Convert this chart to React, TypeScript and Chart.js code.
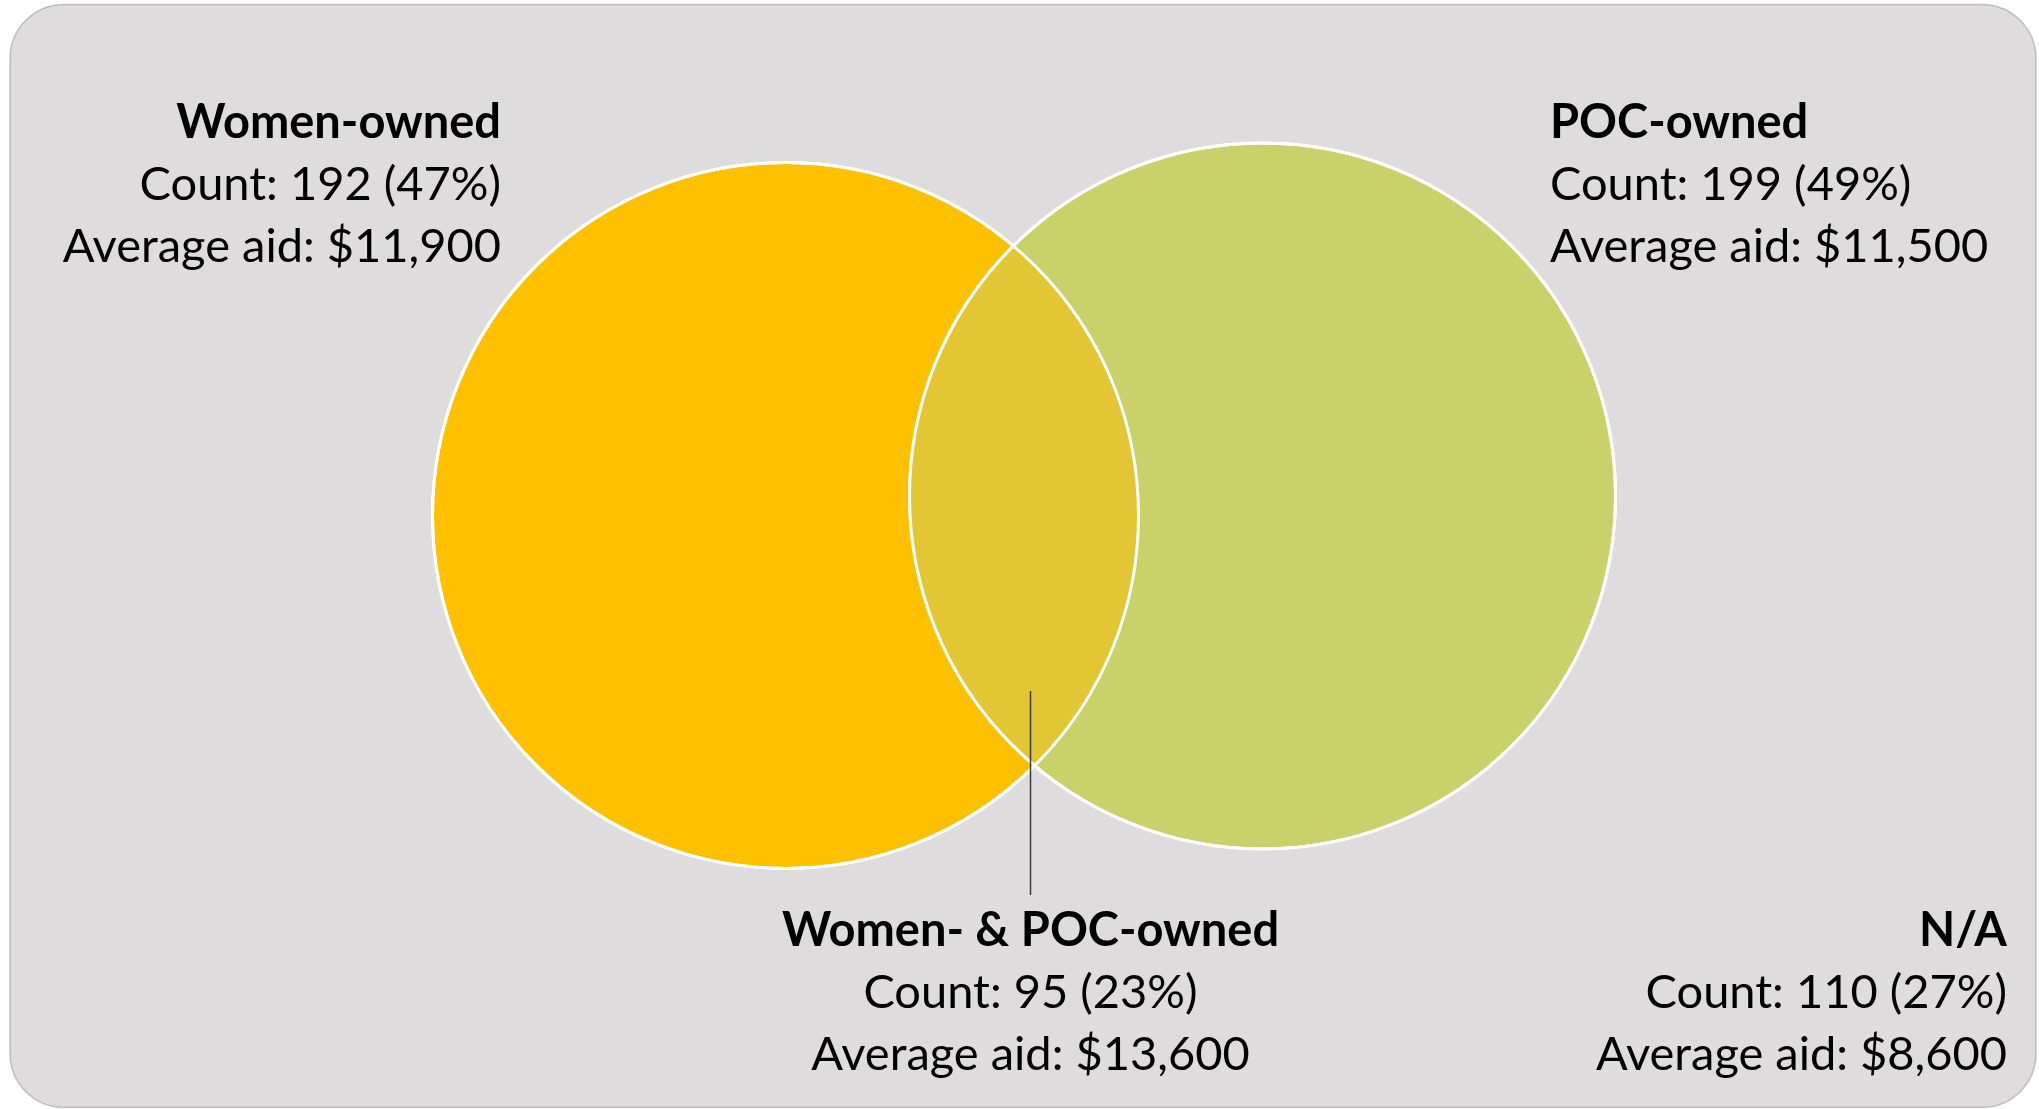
import React, { useEffect, useRef } from "react";
import { Chart, registerables } from "chart.js";

Chart.register(...registerables);

// ---- data ----
const categories = ["Women-owned", "POC-owned", "Women- & POC-owned", "N/A"];
const counts = [192, 199, 95, 110];
const percents = [47, 49, 23, 27];
const averageAid = [11900, 11500, 13600, 8600];

// ---- layout (diagram units, mapped through hidden linear scales) ----
const VIEW_W = 2039;
const VIEW_H = 1109;
const CIRCLE_LAYOUT = [
  { cx: 785.5, cy: 515.5 },
  { cx: 1262.5, cy: 496 },
];
const CIRCLE_R = 353;
const LABEL_LAYOUT = [
  { x: 501, y: 138, align: "right" },
  { x: 1550, y: 138, align: "left" },
  { x: 1030.5, y: 946, align: "center" },
  { x: 2007, y: 946, align: "right" },
];
const LINE_GAP = 62;
const LEADER = { x: 1030.5, y1: 691, y2: 895 };

// ---- styles ----
const COLORS = {
  page: "#FFFFFF",
  panel: "#DEDCDD",
  panelEdge: "rgba(0,0,0,0.2)",
  women: "#FFC000",
  poc: "#C9D16A",
  overlap: "#E2C634",
  outline: "#FFFFFF",
  leader: "#3A3A3A",
  text: "#000000",
};
const FONT_FAMILY = "Lato, 'Open Sans', sans-serif";
const FONT_SIZE = 47;

function fmtMoney(v: number) {
  return "$" + v.toLocaleString("en-US");
}

function radiusPixels(chart: any) {
  const s = chart.scales && chart.scales.x;
  if (s) {
    const v = s.getPixelForValue(CIRCLE_R) - s.getPixelForValue(0);
    if (isFinite(v) && v > 0) return v;
  }
  return (CIRCLE_R * chart.width) / VIEW_W;
}

const vennPlugin = {
  id: "vennDecor",
  beforeDraw(chart: any) {
    const { ctx, width, height } = chart;
    ctx.save();
    ctx.fillStyle = COLORS.page;
    ctx.fillRect(0, 0, width, height);
    ctx.beginPath();
    ctx.roundRect(10, 4.5, 2026, 1103, 54);
    ctx.fillStyle = COLORS.panel;
    ctx.fill();
    ctx.lineWidth = 1.5;
    ctx.strokeStyle = COLORS.panelEdge;
    ctx.stroke();
    ctx.restore();
  },
  afterDatasetsDraw(chart: any) {
    const { ctx } = chart;
    const xs = chart.scales.x;
    const ys = chart.scales.y;
    const r = radiusPixels(chart);
    const pts = CIRCLE_LAYOUT.map((c) => ({
      x: xs.getPixelForValue(c.cx),
      y: ys.getPixelForValue(c.cy),
    }));

    // overlap region
    ctx.save();
    ctx.beginPath();
    ctx.arc(pts[0].x, pts[0].y, r, 0, Math.PI * 2);
    ctx.clip();
    ctx.beginPath();
    ctx.arc(pts[1].x, pts[1].y, r, 0, Math.PI * 2);
    ctx.fillStyle = COLORS.overlap;
    ctx.fill();
    ctx.restore();

    // outlines
    ctx.save();
    ctx.strokeStyle = COLORS.outline;
    ctx.lineWidth = 3;
    pts.forEach((p) => {
      ctx.beginPath();
      ctx.arc(p.x, p.y, r, 0, Math.PI * 2);
      ctx.stroke();
    });
    ctx.restore();

    // leader line
    ctx.save();
    ctx.strokeStyle = COLORS.leader;
    ctx.lineWidth = 1.5;
    ctx.beginPath();
    ctx.moveTo(xs.getPixelForValue(LEADER.x), ys.getPixelForValue(LEADER.y1));
    ctx.lineTo(xs.getPixelForValue(LEADER.x), ys.getPixelForValue(LEADER.y2));
    ctx.stroke();
    ctx.restore();

    // labels
    ctx.save();
    ctx.fillStyle = COLORS.text;
    ctx.textBaseline = "alphabetic";
    categories.forEach((name, i) => {
      const L = LABEL_LAYOUT[i];
      const x = xs.getPixelForValue(L.x);
      const y = ys.getPixelForValue(L.y);
      ctx.textAlign = L.align;
      ctx.font = `bold ${FONT_SIZE}px ${FONT_FAMILY}`;
      ctx.fillText(name, x, y);
      ctx.font = `${FONT_SIZE}px ${FONT_FAMILY}`;
      ctx.fillText(`Count: ${counts[i]} (${percents[i]}%)`, x, y + LINE_GAP);
      ctx.fillText(`Average aid: ${fmtMoney(averageAid[i])}`, x, y + LINE_GAP * 2);
    });
    ctx.restore();
  },
};

export default function App() {
  const canvasRef = useRef<HTMLCanvasElement | null>(null);

  useEffect(() => {
    const canvas = canvasRef.current;
    if (!canvas) return;
    const radiusOpt = (c: any) => radiusPixels(c.chart);
    const chart = new Chart(canvas, {
      type: "bubble",
      data: {
        datasets: [
          {
            label: categories[1],
            data: [{ x: CIRCLE_LAYOUT[1].cx, y: CIRCLE_LAYOUT[1].cy }],
            backgroundColor: COLORS.poc,
            borderColor: COLORS.outline,
            borderWidth: 3,
            radius: radiusOpt,
            hoverRadius: 0,
            clip: false,
          } as any,
          {
            label: categories[0],
            data: [{ x: CIRCLE_LAYOUT[0].cx, y: CIRCLE_LAYOUT[0].cy }],
            backgroundColor: COLORS.women,
            borderColor: COLORS.outline,
            borderWidth: 3,
            radius: radiusOpt,
            hoverRadius: 0,
            clip: false,
          } as any,
        ],
      },
      options: {
        responsive: false,
        animation: false,
        events: [],
        layout: { padding: 0, autoPadding: false },
        scales: {
          x: { type: "linear", min: 0, max: VIEW_W, display: false },
          y: { type: "linear", min: 0, max: VIEW_H, reverse: true, display: false },
        },
        plugins: {
          legend: { display: false },
          tooltip: { enabled: false },
          title: { display: false },
        },
      } as any,
      plugins: [vennPlugin],
    });
    return () => chart.destroy();
  }, []);

  return (
    <div style={{ position: "fixed", left: 0, top: 0, width: VIEW_W, height: VIEW_H }}>
      <canvas ref={canvasRef} width={VIEW_W} height={VIEW_H} style={{ display: "block" }} />
    </div>
  );
}
